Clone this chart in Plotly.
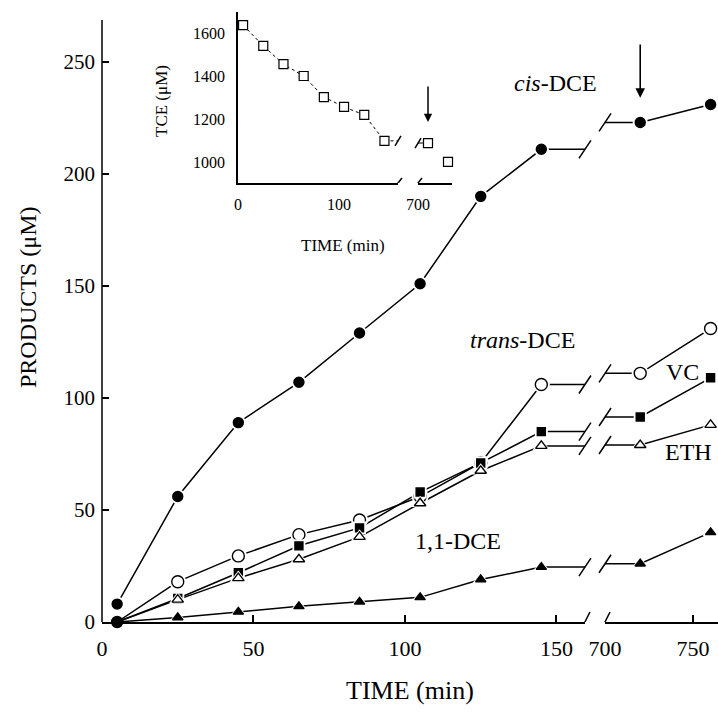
import plotly.graph_objects as go

FONT = "Liberation Serif"

# ---------------- data ----------------
times_early = [5, 25, 45, 65, 85, 105, 125, 145]
times_late = [720, 760]

cis_dce_early = [8, 56, 89, 107, 129, 151, 190, 211]
cis_dce_late = [223, 231]

trans_dce_early = [0, 18, 29.5, 39, 45.5, 56, 71, 106]
trans_dce_late = [111, 131]

vc_early = [0, 10.5, 22, 34, 42, 58, 71, 85]
vc_late = [91.5, 109]

eth_early = [0, 10, 19.6, 28, 38, 53, 67.5, 78.6]
eth_late = [79, 88]

dce11_early = [0, 2, 4.5, 7, 9, 11, 19, 24.5]
dce11_late = [26, 40]

tce_early = [1637, 1540, 1455, 1400, 1302, 1256, 1219, 1098]
tce_late = [1088, 1000]

x_ticks_early = [0, 50, 100, 150]
x_ticks_late = [700, 750]
y_ticks = [0, 50, 100, 150, 200, 250]
inset_x_ticks_early = [0, 100]
inset_x_ticks_late = [700]
inset_y_ticks = [1000, 1200, 1400, 1600]

# ---------------- axis geometry ----------------
W, H = 718, 713
ML, MR, MT, MB = 102, 0, 12, 91
PW = W - ML - MR
PH = H - MT - MB

X1_RANGE = [0, 159.4]
X2_RANGE = [700, 764.2]
X1_DOM = [0, 0.784]
X2_DOM = [0.8166, 1.0]
Y_RANGE = [0, 272.3]

IX1_RANGE = [0, 158.4]
IX2_RANGE = [700, 768]
IX1_DOM = [0.2208, 0.4805]
IX2_DOM = [0.513, 0.5682]
IY_DOM = [0.7197, 1.0]
IY_RANGE = [902, 1698]

Y_PER_PX = (Y_RANGE[1] - Y_RANGE[0]) / PH
IY_PER_PX = (IY_RANGE[1] - IY_RANGE[0]) / ((IY_DOM[1] - IY_DOM[0]) * PH)

fig = go.Figure()

LW = 1.5
series = [
    (cis_dce_early, cis_dce_late, "circle", 10, "black"),
    (trans_dce_early, trans_dce_late, "circle", 12, "white"),
    (vc_early, vc_late, "square", 8, "black"),
    (eth_early, eth_late, "triangle-up", 10, "white"),
    (dce11_early, dce11_late, "triangle-up", 9, "black"),
]

# lines (extended horizontally to the axis break)
for early, late, sym, size, fill in series:
    fig.add_trace(go.Scatter(x=times_early + [X1_RANGE[1]], y=early + [early[-1]],
                             xaxis="x", yaxis="y", mode="lines",
                             line=dict(color="black", width=LW), hoverinfo="skip"))
    fig.add_trace(go.Scatter(x=[X2_RANGE[0]] + times_late, y=[late[0]] + late,
                             xaxis="x2", yaxis="y", mode="lines",
                             line=dict(color="black", width=LW), hoverinfo="skip"))

# halos + markers
for i, (early, late, sym, size, fill) in enumerate(series):
    starts_at_zero = early[0] == 0
    halo_sizes = [0 if (starts_at_zero and k == 0) else size + 5 for k in range(len(early))]
    mk_sizes = [size for _ in early]
    symbols = [sym for _ in early]
    if starts_at_zero:
        if i == len(series) - 1:
            symbols[0] = "circle"
            mk_sizes[0] = 11
        else:
            mk_sizes[0] = 0
    for ax, tx, vals, hs, ms, sy in [
        ("x", times_early, early, halo_sizes, mk_sizes, symbols),
        ("x2", times_late, late, [size + 5] * len(late), [size] * len(late), [sym] * len(late)),
    ]:
        fig.add_trace(go.Scatter(x=tx, y=vals, xaxis=ax, yaxis="y", mode="markers",
                                 marker=dict(symbol=sy, size=hs, color="white", opacity=1,
                                             line=dict(width=0)),
                                 cliponaxis=False, hoverinfo="skip"))
        fig.add_trace(go.Scatter(x=tx, y=vals, xaxis=ax, yaxis="y", mode="markers",
                                 marker=dict(symbol=sy, size=ms, color=fill, opacity=1,
                                             line=dict(color="black", width=1.4)),
                                 cliponaxis=False, hoverinfo="skip"))

# inset TCE
fig.add_trace(go.Scatter(x=times_early + [IX1_RANGE[1]], y=tce_early + [tce_early[-1]],
                         xaxis="x3", yaxis="y2", mode="lines",
                         line=dict(color="black", width=1, dash="dot"), hoverinfo="skip"))
fig.add_trace(go.Scatter(x=[IX2_RANGE[0], times_late[0]], y=[tce_late[0], tce_late[0]],
                         xaxis="x4", yaxis="y2", mode="lines",
                         line=dict(color="black", width=1), hoverinfo="skip"))
for ax, tx, vals in [("x3", times_early, tce_early), ("x4", times_late, tce_late)]:
    fig.add_trace(go.Scatter(x=tx, y=vals, xaxis=ax, yaxis="y2", mode="markers",
                             marker=dict(symbol="square", size=9, color="white", opacity=1,
                                         line=dict(color="black", width=1.2)),
                             cliponaxis=False, hoverinfo="skip"))

# ---------------- axes ----------------
tick_common = dict(ticks="inside", ticklen=7, tickwidth=1.5, tickcolor="black",
                   showgrid=False, zeroline=False, color="black")
xcommon = dict(showline=True, linewidth=1.5, linecolor="black",
               tickfont=dict(family=FONT, size=22, color="black"), ticklabelstandoff=6, **tick_common)
inset_common = dict(ticks="", showline=True, linewidth=1.5, linecolor="black", showgrid=False,
                    zeroline=False, color="black",
                    tickfont=dict(family=FONT, size=16, color="black"))
fig.update_layout(
    template="none",
    xaxis=dict(domain=X1_DOM, range=X1_RANGE, anchor="y", tickvals=x_ticks_early, **xcommon),
    xaxis2=dict(domain=X2_DOM, range=X2_RANGE, anchor="y", tickvals=x_ticks_late, **xcommon),
    yaxis=dict(domain=[0, 1], range=Y_RANGE, anchor="x", tickvals=y_ticks, showline=False,
               tickfont=dict(family=FONT, size=21, color="black"), ticklabelstandoff=6,
               **tick_common),
    xaxis3=dict(domain=IX1_DOM, range=IX1_RANGE, anchor="y2", tickvals=inset_x_ticks_early,
                ticklabelstandoff=6, **inset_common),
    xaxis4=dict(domain=IX2_DOM, range=IX2_RANGE, anchor="y2", tickvals=inset_x_ticks_late,
                ticklabelstandoff=6, **inset_common),
    yaxis2=dict(domain=IY_DOM, range=IY_RANGE, anchor="x3", tickvals=inset_y_ticks,
                ticklabelstandoff=8, **inset_common),
)

# ---------------- shapes (main y axis line, break slashes) ----------------
shapes = []
shapes.append(dict(type="line", xref="paper", yref="y", x0=0, x1=0, y0=0,
                   y1=Y_RANGE[1] - 8 * Y_PER_PX, line=dict(color="black", width=1.5)))

def slash(xp, yv, dxpx, dypx, yref, yper):
    return dict(type="line", xref="paper", yref=yref,
                x0=xp - dxpx / PW, x1=xp + dxpx / PW,
                y0=yv - dypx * yper, y1=yv + dypx * yper,
                line=dict(color="black", width=1.5))

for early, late, sym, size, fill in series:
    shapes.append(slash(X1_DOM[1], early[-1], 6, 9, "y", Y_PER_PX))
    shapes.append(slash(X2_DOM[0], late[0], 6, 9, "y", Y_PER_PX))
shapes.append(slash(X1_DOM[1], 0, 5, 10, "y", Y_PER_PX))
shapes.append(slash(X2_DOM[0], 0, 5, 10, "y", Y_PER_PX))
# inset breaks
shapes.append(slash(IX1_DOM[1], IY_RANGE[0], 4, 5, "y2", IY_PER_PX))
shapes.append(slash(IX2_DOM[0], IY_RANGE[0], 4, 5, "y2", IY_PER_PX))
shapes.append(slash(IX1_DOM[1], tce_early[-1], 3, 5, "y2", IY_PER_PX))
shapes.append(slash(IX2_DOM[0], tce_late[0], 3, 5, "y2", IY_PER_PX))
fig.update_layout(shapes=shapes)

# ---------------- annotations ----------------
def px(xpx, ypx):
    return (xpx - ML) / PW, (H - MB - ypx) / PH

ann = []
def label(text, xpx, ypx, size, angle=0):
    xp, yp = px(xpx, ypx)
    ann.append(dict(text=text, x=xp, y=yp, xref="paper", yref="paper", showarrow=False,
                    xanchor="center", yanchor="middle", textangle=angle,
                    font=dict(family=FONT, size=size, color="black")))

label("TIME (min)", 410, 690, 26)
label("PRODUCTS (\u03bcM)", 28, 297, 24, -90)
label("<i>cis</i>-DCE", 555, 83, 24)
label("<i>trans</i>-DCE", 522, 340, 24)
label("VC", 682, 372, 24)
label("ETH", 688, 452, 24)
label("1,1-DCE", 458, 541, 24)
label("TIME (min)", 343, 245, 17)
label("TCE (\u03bcM)", 162, 101, 17, -90)

# arrows
ann.append(dict(x=times_late[0], y=cis_dce_late[0] + 11, xref="x2", yref="y",
                ax=times_late[0], ay=cis_dce_late[0] + 35.5, axref="x2", ayref="y",
                text="", showarrow=True, arrowhead=2, arrowsize=1.2, arrowwidth=1.6,
                arrowcolor="black"))
ann.append(dict(x=times_late[0], y=tce_late[0] + 98, xref="x4", yref="y2",
                ax=times_late[0], ay=tce_late[0] + 270, axref="x4", ayref="y2",
                text="", showarrow=True, arrowhead=2, arrowsize=1.1, arrowwidth=1.5,
                arrowcolor="black"))
fig.update_layout(annotations=ann)

fig.update_layout(width=W, height=H, margin=dict(l=ML, r=MR, t=MT, b=MB),
                  paper_bgcolor="white", plot_bgcolor="white", showlegend=False,
                  font=dict(family=FONT, color="black"))

fig.write_html("out.html")
